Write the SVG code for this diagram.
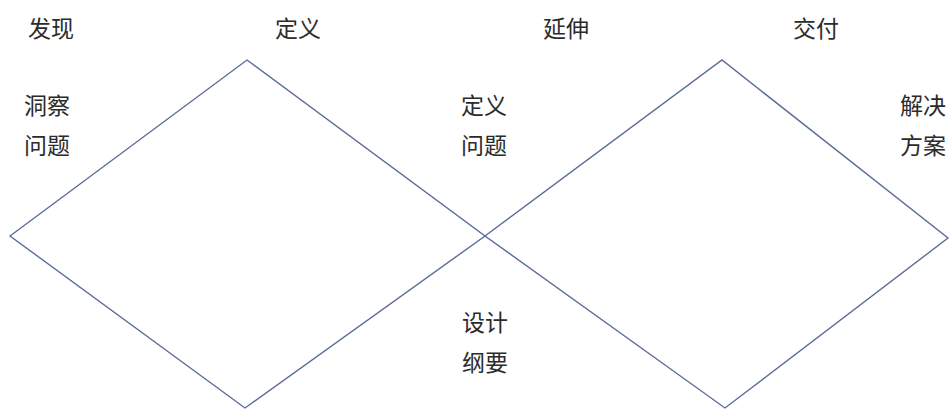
<svg xmlns="http://www.w3.org/2000/svg" width="950" height="410" viewBox="0 0 950 410">
  <style>
    .lbl { font-family: "Noto Sans CJK SC", "Noto Sans", sans-serif; font-size: 23px; fill: #2b2b2b; text-anchor: middle; }
    .dia { fill: none; stroke: #5b6d96; stroke-width: 1.4; stroke-linejoin: miter; }
  </style>
  <rect x="0" y="0" width="950" height="410" fill="#ffffff"/>
  <g id="connectors">
    <polygon id="diamond-1" class="dia" points="10,236 247,60 485,236 245,408"/>
    <polygon id="diamond-2" class="dia" points="485,236 722,60 948,238 725,408"/>
  </g>
  <g id="phase-discover"><text class="lbl" x="51" y="37">发现</text></g>
  <g id="phase-define"><text class="lbl" x="298" y="37">定义</text></g>
  <g id="phase-develop"><text class="lbl" x="566" y="37">延伸</text></g>
  <g id="phase-deliver"><text class="lbl" x="816" y="37">交付</text></g>
  <g id="insight"><text class="lbl" x="47" y="114">洞察</text><text class="lbl" x="47" y="154">问题</text></g>
  <g id="define-problem"><text class="lbl" x="484" y="114">定义</text><text class="lbl" x="484" y="154">问题</text></g>
  <g id="solution"><text class="lbl" x="923" y="114">解决</text><text class="lbl" x="923" y="154">方案</text></g>
  <g id="brief"><text class="lbl" x="485" y="331">设计</text><text class="lbl" x="485" y="371">纲要</text></g>
</svg>
